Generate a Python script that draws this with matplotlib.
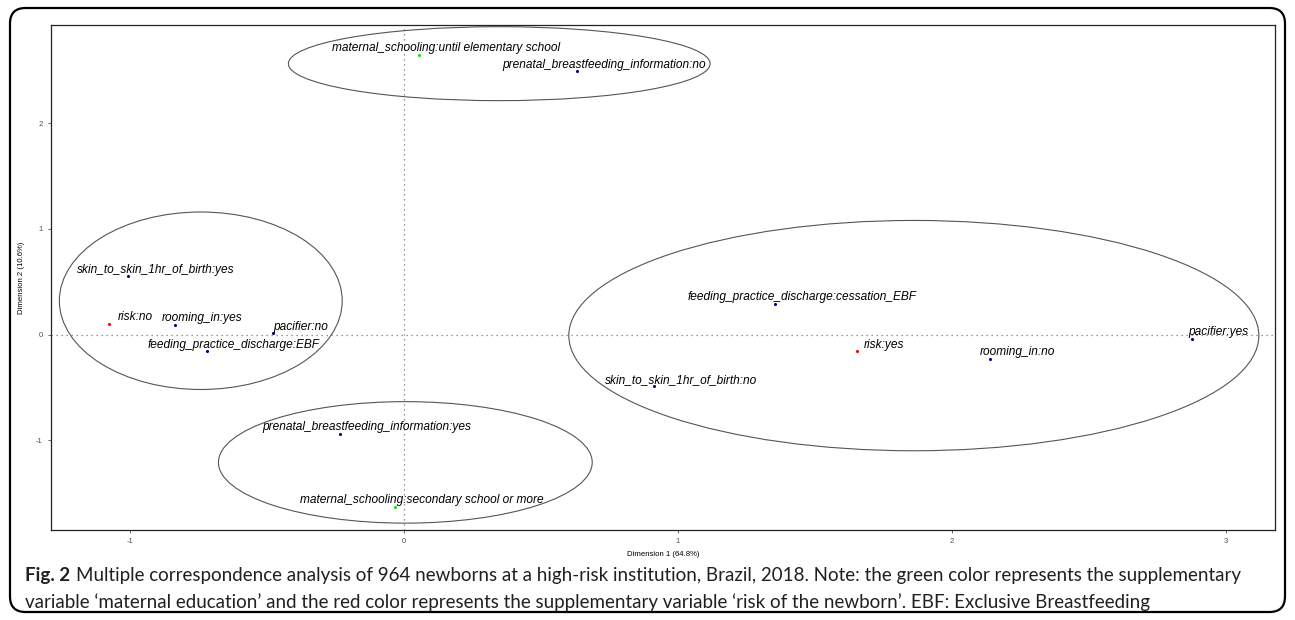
import matplotlib
matplotlib.use("Agg")
import matplotlib.pyplot as plt
from matplotlib.patches import Ellipse, FancyBboxPatch

plt.rcParams["axes.unicode_minus"] = False

# category coordinates
labels = [
    "maternal_schooling:until elementary school",
    "prenatal_breastfeeding_information:no",
    "skin_to_skin_1hr_of_birth:yes",
    "risk:no",
    "rooming_in:yes",
    "pacifier:no",
    "feeding_practice_discharge:EBF",
    "feeding_practice_discharge:cessation_EBF",
    "risk:yes",
    "skin_to_skin_1hr_of_birth:no",
    "rooming_in:no",
    "pacifier:yes",
    "prenatal_breastfeeding_information:yes",
    "maternal_schooling:secondary school or more",
]
dim1 = [0.055, 0.63, -1.007, -1.08, -0.836, -0.478, -0.72,
        1.354, 1.653, 0.912, 2.14, 2.876, -0.234, -0.033]
dim2 = [2.65, 2.49, 0.55, 0.10, 0.095, 0.01, -0.16,
        0.29, -0.16, -0.49, -0.23, -0.04, -0.94, -1.63]
kind = ["sup_edu", "active", "active", "sup_risk", "active", "active", "active",
        "active", "sup_risk", "active", "active", "active", "active", "sup_edu"]

# group ellipses: centre x, centre y, width, height
ell_cx = [0.347, -0.743, 1.861, 0.004]
ell_cy = [2.564, 0.32, -0.01, -1.21]
ell_w = [1.54, 1.033, 2.52, 1.365]
ell_h = [0.70, 1.68, 2.18, 1.15]

colors = {"active": "#00008B", "sup_risk": "#FF0000", "sup_edu": "#00EE00"}

fig = plt.figure(figsize=(12.95, 6.2), dpi=100)
ax = fig.add_axes([51 / 1295, 90 / 620, 1224 / 1295, 505 / 620])

ax.axhline(0, color="#777777", lw=0.9, ls=(0, (1, 3)), zorder=1)
ax.axvline(0, color="#777777", lw=0.9, ls=(0, (1, 3)), zorder=1)

for cx, cy, w, h in zip(ell_cx, ell_cy, ell_w, ell_h):
    ax.add_patch(Ellipse((cx, cy), w, h, fill=False, ec="#555555", lw=0.8, zorder=2))

for x, y, lab, k in zip(dim1, dim2, labels, kind):
    ax.scatter(x, y, s=5, color=colors[k], zorder=3, linewidths=0)
    ax.annotate(lab, (x, y), xytext=(27, 6.5), textcoords="offset pixels",
                ha="center", va="center", fontsize=8.6, style="italic",
                family="Liberation Sans", color="black", zorder=4)

ax.set_xlim(-1.29, 3.18)
ax.set_ylim(-1.85, 2.93)
ax.set_xticks([-1, 0, 1, 2, 3])
ax.set_yticks([-1, 0, 1, 2])
ax.tick_params(labelsize=5.5, colors="#4D4D4D", length=2.5, width=0.6)
for lab in ax.get_xticklabels() + ax.get_yticklabels():
    lab.set_family("Liberation Sans")
for sp in ax.spines.values():
    sp.set_linewidth(0.9)
    sp.set_color("#222222")
ax.set_xlabel("Dimension 1 (64.8%)", fontsize=5.6, family="Liberation Sans", labelpad=4)
ax.set_ylabel("Dimension 2 (10.6%)", fontsize=5.6, family="Liberation Sans", labelpad=8)

# rounded outer frame
frame = FancyBboxPatch((10 / 1295, 8 / 620), 1275 / 1295, 604 / 620,
                       boxstyle="round,pad=0,rounding_size=0.012",
                       transform=fig.transFigure, fill=False, ec="black", lw=1.6,
                       mutation_aspect=1295 / 620)
fig.patches.append(frame)

# caption
cap_font = "Lato"
cap_size = 13.5
fig.canvas.draw()
r = fig.canvas.get_renderer()
t = fig.text(25 / 1295, 1 - 575 / 620, "Fig. 2", fontsize=cap_size, weight="bold",
             family=cap_font, va="center", ha="left", color="#231F20")
bb = t.get_window_extent(renderer=r)
fig.text((bb.x1 + 6) / 1295, 1 - 575 / 620,
         "Multiple correspondence analysis of 964 newborns at a high-risk institution, "
         "Brazil, 2018. Note: the green color represents the supplementary",
         fontsize=cap_size, family=cap_font, va="center", ha="left", color="#231F20")
fig.text(25 / 1295, 1 - 602 / 620,
         "variable \u2018maternal education\u2019 and the red color represents the supplementary "
         "variable \u2018risk of the newborn\u2019. EBF: Exclusive Breastfeeding",
         fontsize=cap_size, family=cap_font, va="center", ha="left", color="#231F20")

fig.savefig("out.png", dpi=100)
